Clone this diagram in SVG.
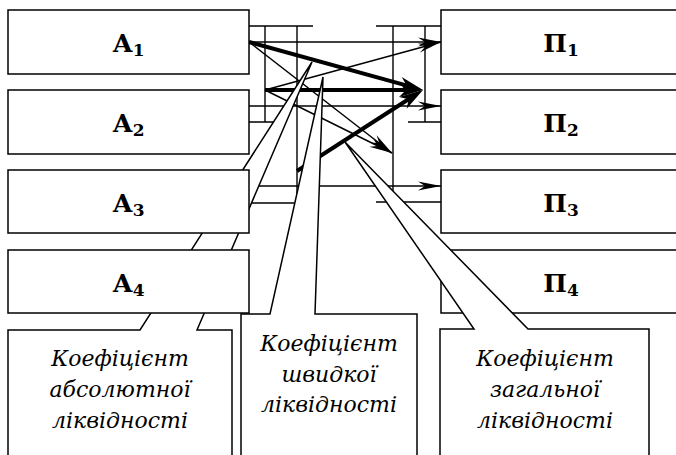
<svg xmlns="http://www.w3.org/2000/svg" width="676" height="455" viewBox="0 0 676 455">
  <style>
    .box { fill: #fff; stroke: #000; stroke-width: 1.5; }
    .call { fill: #fff; stroke: #000; stroke-width: 1.5; stroke-linejoin: miter; }
    .thin { stroke: #000; stroke-width: 1.4; fill: none; }
    .thick { stroke: #000; stroke-width: 4; fill: none; }
  </style>
  <defs>
    <marker id="arr" viewBox="-24 -6 26 12" refX="0" refY="0" markerWidth="26" markerHeight="12" markerUnits="userSpaceOnUse" orient="auto">
      <path d="M0,0 L-23,-4.5 L-16,0 L-23,4.5 z" fill="#000"/>
    </marker>
    <marker id="arrBold" viewBox="-18 -8 28 16" refX="0" refY="0" markerWidth="28" markerHeight="16" markerUnits="userSpaceOnUse" orient="auto">
      <path d="M8,0 L-16,-7 L-9,0 L-16,7 z" fill="#000"/>
    </marker>
  </defs>

  <!-- brackets and arrows between the asset and liability groups -->
  <g id="connectors">
    <!-- left brackets: A1–A2 and A1–A3 -->
    <path class="thin" d="M249,26 H313 M265,26 V122 M249,122 H282 M297,26 V203 M249,203 H313"/>
    <!-- right brackets: П1–П2 and П1–П3 -->
    <path class="thin" d="M376,26 H441 M425,26 V122 M408,122 H441 M393,26 V202 M376,202 H441"/>

    <!-- row arrows -->
    <line class="thin" x1="249" y1="42" x2="441" y2="42" marker-end="url(#arr)"/>
    <line class="thin" x1="249" y1="106" x2="441" y2="106" marker-end="url(#arr)"/>
    <line class="thin" x1="249" y1="186" x2="441" y2="186" marker-end="url(#arr)"/>

    <!-- cross arrows -->
    <line class="thin" x1="249" y1="42" x2="392" y2="153" marker-end="url(#arr)"/>
    <line class="thin" x1="265" y1="90" x2="441" y2="42" marker-end="url(#arr)"/>
    <line class="thin" x1="265" y1="90" x2="392" y2="153" marker-end="url(#arr)"/>

    <!-- bold arrows into the П1–П2 bracket -->
    <line class="thick" x1="249" y1="42" x2="415.3" y2="87.9" marker-end="url(#arrBold)"/>
    <line class="thick" x1="265" y1="90" x2="415" y2="90" marker-end="url(#arrBold)"/>
    <line class="thick" x1="297" y1="171" x2="416.3" y2="94.3" marker-end="url(#arrBold)"/>
  </g>

  <!-- liabilities -->
  <g font-family="'DejaVu Serif', serif" font-weight="bold" font-size="25" text-anchor="middle">
    <g id="p1"><rect class="box" x="441" y="10" width="244" height="64"/><text x="561" y="52">П<tspan font-size="17" dy="4">1</tspan></text></g>
    <g id="p2"><rect class="box" x="441" y="90" width="244" height="64"/><text x="561" y="132">П<tspan font-size="17" dy="4">2</tspan></text></g>
    <g id="p3"><rect class="box" x="441" y="170" width="244" height="63"/><text x="561" y="212">П<tspan font-size="17" dy="4">3</tspan></text></g>
    <g id="p4"><rect class="box" x="441" y="250" width="244" height="63"/><text x="561" y="292">П<tspan font-size="17" dy="4">4</tspan></text></g>
  </g>

  <!-- ratio callouts -->
  <g font-family="'DejaVu Serif', serif" font-style="italic" font-size="22" text-anchor="middle">
    <g id="ratio-absolute">
      <polygon class="call" points="8,462 8,330 140,330 312,62 197,330 232,330 232,462"/>
      <text x="120" y="366">Коефіцієнт</text>
      <text x="120" y="397">абсолютної</text>
      <text x="120" y="428">ліквідності</text>
    </g>
    <g id="ratio-quick">
      <polygon class="call" points="241,462 241,314 270,314 323,77 315,314 417,314 417,462"/>
      <text x="329" y="351">Коефіцієнт</text>
      <text x="329" y="382">швидкої</text>
      <text x="329" y="412">ліквідності</text>
    </g>
    <g id="ratio-current">
      <polygon class="call" points="440,462 440,329 474,329 345,142 528,329 649,329 649,462"/>
      <text x="545" y="366">Коефіцієнт</text>
      <text x="545" y="397">загальної</text>
      <text x="545" y="428">ліквідності</text>
    </g>
  </g>

  <!-- assets -->
  <g font-family="'DejaVu Serif', serif" font-weight="bold" font-size="25" text-anchor="middle">
    <g id="a1"><rect class="box" x="8" y="10" width="241" height="64"/><text x="128.5" y="52">А<tspan font-size="17" dy="4">1</tspan></text></g>
    <g id="a2"><rect class="box" x="8" y="90" width="241" height="64"/><text x="128.5" y="132">А<tspan font-size="17" dy="4">2</tspan></text></g>
    <g id="a3"><rect class="box" x="8" y="170" width="241" height="63"/><text x="128.5" y="212">А<tspan font-size="17" dy="4">3</tspan></text></g>
    <g id="a4"><rect class="box" x="8" y="250" width="241" height="63"/><text x="128.5" y="292">А<tspan font-size="17" dy="4">4</tspan></text></g>
  </g>
</svg>
